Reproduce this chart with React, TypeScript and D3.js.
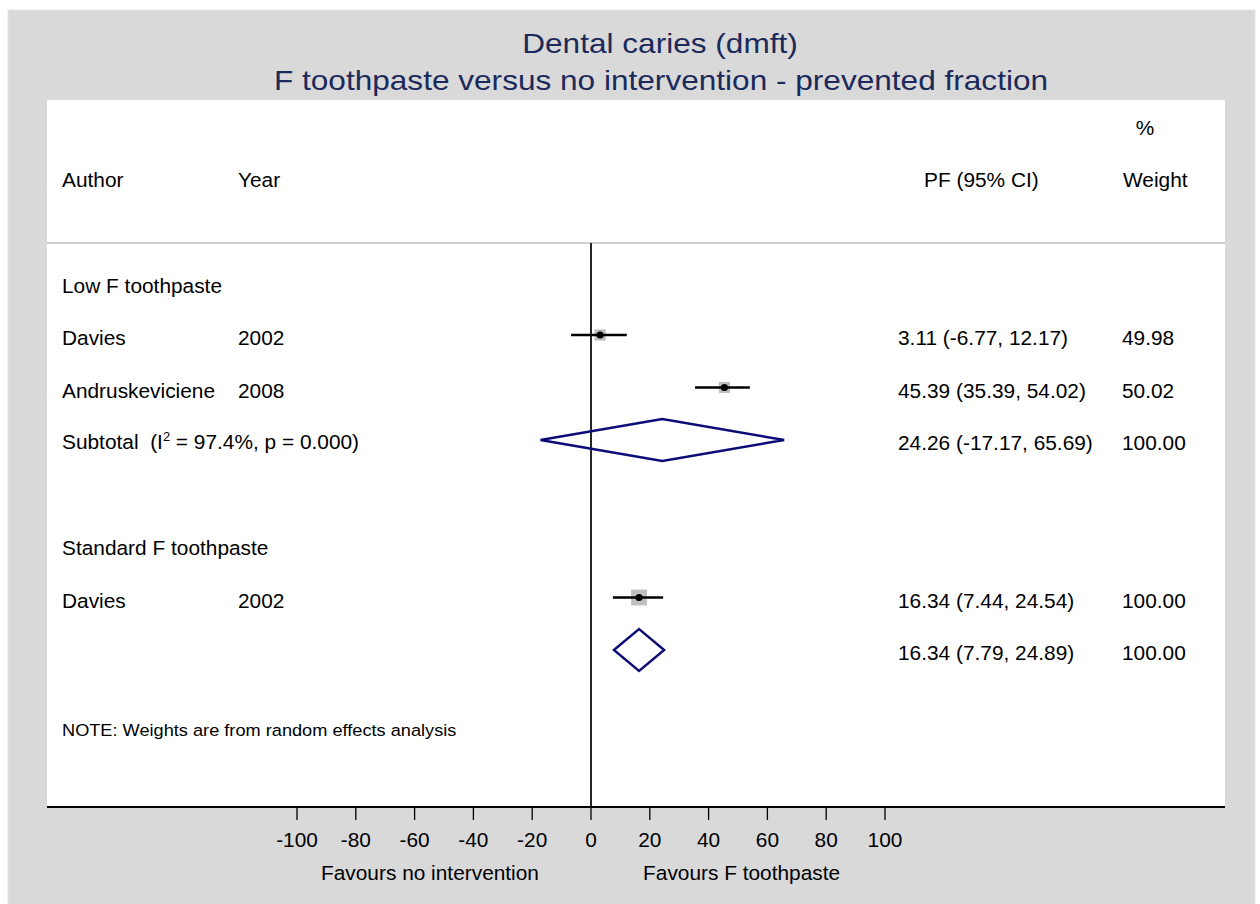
import React from "react";
import * as d3 from "d3";

// ---------- data ----------
const titleLines = ["Dental caries (dmft)", "F toothpaste versus no intervention - prevented fraction"];
const groupNames = ["Low F toothpaste", "Standard F toothpaste"];
const studyAuthor = ["Davies", "Andruskeviciene", "Davies"];
const studyYear = ["2002", "2008", "2002"];
const studyGroup = [0, 0, 1];
const studyPF = [3.11, 45.39, 16.34];
const studyLo = [-6.77, 35.39, 7.44];
const studyHi = [12.17, 54.02, 24.54];
const studyWeight = [49.98, 50.02, 100.0];
const subtotalHet = ["97.4%", ""];
const subtotalP = ["0.000", ""];
const subtotalPF = [24.26, 16.34];
const subtotalLo = [-17.17, 7.79];
const subtotalHi = [65.69, 24.89];
const subtotalWeight = [100.0, 100.0];
const xTicks = [-100, -80, -60, -40, -20, 0, 20, 40, 60, 80, 100];
const favoursLeft = "Favours no intervention";
const favoursRight = "Favours F toothpaste";
const noteText = "NOTE: Weights are from random effects analysis";

// ---------- layout ----------
const W = 1260;
const H = 904;
const SX = 1.07; // horizontal stretch of the original font
const FS = 19.5;
const TITLE_COLOR = "#1b2a5b";
const DIAMOND_COLOR = "#0c0c78";

type TProps = {
  x: number;
  y: number;
  size?: number;
  anchor?: "start" | "middle" | "end";
  fill?: string;
  sx?: number;
  children: React.ReactNode;
};
const T = ({ x, y, size = FS, anchor = "start", fill = "#000", sx = SX, children }: TProps) => (
  <text
    transform={`translate(${x},${y}) scale(${sx},1)`}
    fontSize={size}
    textAnchor={anchor}
    fill={fill}
    style={{ whiteSpace: "pre" }}
    fontFamily="'Liberation Sans', Arial, Helvetica, sans-serif"
  >
    {children}
  </text>
);

const fmt = (v: number) => v.toFixed(2);

export default function App() {
  const panel = { x0: 47, x1: 1225, y0: 100, y1: 807 };
  const x = d3.scaleLinear().domain([-100, 100]).range([297, 885]);

  type Row =
    | { kind: "group"; g: number }
    | { kind: "study"; i: number }
    | { kind: "subtotal"; g: number }
    | { kind: "blank" };
  const rows: Row[] = [];
  groupNames.forEach((_, g) => {
    rows.push({ kind: "group", g });
    studyGroup.forEach((sg, i) => {
      if (sg === g) rows.push({ kind: "study", i });
    });
    rows.push({ kind: "subtotal", g });
    rows.push({ kind: "blank" });
  });
  const y = d3
    .scalePoint<number>()
    .domain(rows.map((_, i) => i))
    .range([282.5, 282.5 + 52.5 * (rows.length - 1)]);

  const boxSize = d3.scaleSqrt().domain([0, 100]).range([0, 15.8]);

  const colAuthor = 62;
  const colYear = 238;
  const colPF = 898;
  const colW = 1122;
  const baseOff = 10;
  const dh = 21;

  const elems: React.ReactNode[] = [];
  rows.forEach((r, ri) => {
    const cy = y(ri)!;
    if (r.kind === "group") {
      elems.push(
        <T key={`g${ri}`} x={colAuthor} y={cy + baseOff}>
          {groupNames[r.g]}
        </T>
      );
    } else if (r.kind === "study") {
      const i = r.i;
      const s = boxSize(studyWeight[i]);
      elems.push(
        <g key={`s${ri}`}>
          <T x={colAuthor} y={cy + baseOff}>{studyAuthor[i]}</T>
          <T x={colYear} y={cy + baseOff}>{studyYear[i]}</T>
          <rect x={x(studyPF[i]) - s / 2} y={cy - s / 2} width={s} height={s} fill="#bfbfbf" />
          <line x1={x(studyLo[i])} x2={x(studyHi[i])} y1={cy} y2={cy} stroke="#000" strokeWidth={2.3} />
          <circle cx={x(studyPF[i])} cy={cy} r={3.6} fill="#000" />
          <T x={colPF} y={cy + baseOff}>
            {`${fmt(studyPF[i])} (${fmt(studyLo[i])}, ${fmt(studyHi[i])})`}
          </T>
          <T x={colW} y={cy + baseOff}>{fmt(studyWeight[i])}</T>
        </g>
      );
    } else if (r.kind === "subtotal") {
      const g = r.g;
      const pts = [
        [x(subtotalLo[g]), cy],
        [x(subtotalPF[g]), cy - dh],
        [x(subtotalHi[g]), cy],
        [x(subtotalPF[g]), cy + dh],
      ];
      elems.push(
        <g key={`t${ri}`}>
          {subtotalHet[g] !== "" && (
            <T x={colAuthor} y={cy + baseOff - 1}>
              {"Subtotal  (I"}
              <tspan fontSize={12} dy={-8}>2</tspan>
              <tspan dy={8}>{` = ${subtotalHet[g]}, p = ${subtotalP[g]})`}</tspan>
            </T>
          )}
          <polygon
            points={pts.map((p) => p.join(",")).join(" ")}
            fill="none"
            stroke={DIAMOND_COLOR}
            strokeWidth={2.4}
            strokeLinejoin="miter"
          />
          <T x={colPF} y={cy + baseOff}>
            {`${fmt(subtotalPF[g])} (${fmt(subtotalLo[g])}, ${fmt(subtotalHi[g])})`}
          </T>
          <T x={colW} y={cy + baseOff}>{fmt(subtotalWeight[g])}</T>
        </g>
      );
    }
  });

  return (
    <svg
      width={W}
      height={H}
      style={{ position: "absolute", left: 0, top: 0, display: "block" }}
    >
      <rect x={0} y={0} width={W} height={H} fill="#fff" />
      <rect x={8} y={10} width={1247} height={H} fill="#d9d9d9" stroke="#e6e6e6" strokeWidth={1} />
      {/* title */}
      <T x={660} y={53} size={27} anchor="middle" fill={TITLE_COLOR} sx={1.17}>
        {titleLines[0]}
      </T>
      <T x={661} y={90} size={27} anchor="middle" fill={TITLE_COLOR} sx={1.17}>
        {titleLines[1]}
      </T>
      {/* plot panel */}
      <rect x={panel.x0} y={panel.y0} width={panel.x1 - panel.x0} height={panel.y1 - panel.y0} fill="#fff" />
      {/* headers */}
      <T x={1145} y={135} anchor="middle">%</T>
      <T x={colAuthor} y={187}>Author</T>
      <T x={colYear} y={187}>Year</T>
      <T x={924} y={187}>PF (95% CI)</T>
      <T x={1123} y={187}>Weight</T>
      <line x1={panel.x0} x2={panel.x1} y1={243} y2={243} stroke="#c0c0c0" strokeWidth={1.5} />
      {/* zero line */}
      <line x1={x(0)} x2={x(0)} y1={243} y2={panel.y1} stroke="#000" strokeWidth={1.7} />
      {elems}
      {/* note */}
      <T x={colAuthor} y={736} size={17}>{noteText}</T>
      {/* axis */}
      <line x1={panel.x0} x2={panel.x1} y1={panel.y1} y2={panel.y1} stroke="#000" strokeWidth={2} />
      {xTicks.map((t) => (
        <g key={t}>
          <line x1={x(t)} x2={x(t)} y1={panel.y1} y2={panel.y1 + 13} stroke="#000" strokeWidth={1.3} />
          <T x={x(t)} y={847} anchor="middle">{String(t)}</T>
        </g>
      ))}
      <T x={x(-17.7)} y={880} anchor="end">{favoursLeft}</T>
      <T x={x(17.7)} y={880} anchor="start">{favoursRight}</T>
    </svg>
  );
}
